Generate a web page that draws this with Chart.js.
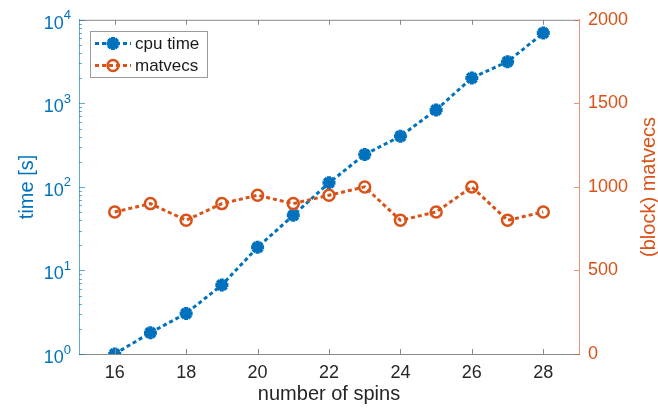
<!DOCTYPE html>
<html>
<head>
<meta charset="utf-8">
<script src="https://cdn.jsdelivr.net/npm/chart.js@4.4.1/dist/chart.umd.min.js"></script>
<style>
  html, body { margin: 0; padding: 0; background: #fff; }
</style>
</head>
<body>
<canvas id="chart" width="658" height="408"></canvas>
<script>
// Data
const spins = [16, 17, 18, 19, 20, 21, 22, 23, 24, 25, 26, 27, 28];
const cpuTime = [1.0, 1.8, 3.06, 6.7, 18.9, 45.7, 112, 244, 404, 835, 2014, 3153, 6937];
const matvecs = [850, 900, 800, 900, 950, 900, 950, 1000, 800, 850, 1000, 800, 850];

// Tick values
const xTicks = [16, 18, 20, 22, 24, 26, 28];
const timeDecades = [1, 10, 100, 1000, 10000];
const matvecTicks = [0, 500, 1000, 1500, 2000];

const BLUE = '#0072BD';
const ORANGE = '#D95319';
const FONT = '"Liberation Sans", Arial, Helvetica, sans-serif';

// all log ticks (minor + decades) for the left axis
function logTicks() {
  const out = [];
  for (let d = 0; d < timeDecades.length - 1; d++) {
    for (let m = 1; m < 10; m++) out.push(timeDecades[d] * m);
  }
  out.push(timeDecades[timeDecades.length - 1]);
  return out;
}

function drawStar(ctx, x, y, r) {
  ctx.beginPath();
  ctx.moveTo(x - r, y); ctx.lineTo(x + r, y);
  ctx.moveTo(x, y - r); ctx.lineTo(x, y + r);
  const d = r * Math.SQRT1_2;
  ctx.moveTo(x - d, y - d); ctx.lineTo(x + d, y + d);
  ctx.moveTo(x - d, y + d); ctx.lineTo(x + d, y - d);
  ctx.stroke();
}

// Axes box, inward ticks, log labels, right title and legend
const decorPlugin = {
  id: 'decor',
  afterDraw(chart) {
    const ctx = chart.ctx;
    const area = chart.chartArea;
    const xs = chart.scales.x, ys = chart.scales.y, y2 = chart.scales.y2;
    ctx.save();

    // top border
    ctx.strokeStyle = '#8a8a8a';
    ctx.lineWidth = 1;
    ctx.beginPath();
    ctx.moveTo(area.left, area.top + 0.5);
    ctx.lineTo(area.right, area.top + 0.5);
    ctx.stroke();

    // x ticks (bottom and top, pointing inward)
    xTicks.forEach(v => {
      const px = Math.round(xs.getPixelForValue(v)) + 0.5;
      ctx.beginPath();
      ctx.moveTo(px, area.bottom); ctx.lineTo(px, area.bottom - 5);
      ctx.moveTo(px, area.top); ctx.lineTo(px, area.top + 5);
      ctx.stroke();
    });

    // left log ticks
    ctx.strokeStyle = 'rgba(0,114,189,0.6)';
    logTicks().forEach(v => {
      const py = Math.round(ys.getPixelForValue(v)) + 0.5;
      const major = timeDecades.includes(v);
      ctx.beginPath();
      ctx.moveTo(area.left, py);
      ctx.lineTo(area.left + (major ? 6 : 3), py);
      ctx.stroke();
    });

    // right ticks
    ctx.strokeStyle = 'rgba(217,83,25,0.6)';
    matvecTicks.forEach(v => {
      const py = Math.round(y2.getPixelForValue(v)) + 0.5;
      ctx.beginPath();
      ctx.moveTo(area.right, py); ctx.lineTo(area.right - 5, py);
      ctx.stroke();
    });

    // left labels 10^n
    ctx.fillStyle = BLUE;
    ctx.textBaseline = 'middle';
    ctx.textAlign = 'right';
    timeDecades.forEach(v => {
      const py = ys.getPixelForValue(v);
      const exp = String(Math.round(Math.log10(v)));
      ctx.font = '13px ' + FONT;
      const ew = ctx.measureText(exp).width;
      ctx.fillText(exp, 71, py - 4);
      ctx.font = '18px ' + FONT;
      ctx.fillText('10', 71 - ew, py + 4);
    });

    // right axis title, reading bottom to top
    ctx.save();
    ctx.translate(649, (area.top + area.bottom) / 2);
    ctx.rotate(-Math.PI / 2);
    ctx.fillStyle = ORANGE;
    ctx.font = '20px ' + FONT;
    ctx.textAlign = 'center';
    ctx.textBaseline = 'middle';
    ctx.fillText('(block) matvecs', 0, 0);
    ctx.restore();

    // legend
    const bx = 90.5, by = 31.5, bw = 117, bh = 46;
    ctx.fillStyle = '#fff';
    ctx.fillRect(bx, by, bw, bh);
    ctx.strokeStyle = '#9a9a9a';
    ctx.lineWidth = 1;
    ctx.strokeRect(bx, by, bw, bh);

    const rows = [
      { label: 'cpu time', color: BLUE, y: 43.5, marker: 'star' },
      { label: 'matvecs', color: ORANGE, y: 65.5, marker: 'circle' }
    ];
    rows.forEach(r => {
      ctx.strokeStyle = r.color;
      ctx.lineWidth = 3;
      ctx.setLineDash([4, 3]);
      ctx.beginPath();
      ctx.moveTo(95, r.y); ctx.lineTo(131, r.y);
      ctx.stroke();
      ctx.setLineDash([]);
      if (r.marker === 'star') {
        ctx.lineWidth = 4;
        drawStar(ctx, 113, r.y, 6.5);
      } else {
        ctx.lineWidth = 2.5;
        ctx.beginPath();
        ctx.arc(113, r.y, 5.5, 0, Math.PI * 2);
        ctx.stroke();
      }
      ctx.fillStyle = '#1a1a1a';
      ctx.font = '17px ' + FONT;
      ctx.textAlign = 'left';
      ctx.textBaseline = 'middle';
      ctx.fillText(r.label, 135, r.y + 1);
    });

    ctx.restore();
  }
};

const data = {
  datasets: [
    {
      label: 'cpu time',
      data: spins.map((s, i) => ({ x: s, y: cpuTime[i] })),
      yAxisID: 'y',
      borderColor: BLUE,
      borderWidth: 3,
      borderDash: [4, 3],
      pointStyle: 'star',
      pointRadius: 6.5,
      pointBorderWidth: 4,
      pointBorderColor: BLUE,
      pointBackgroundColor: BLUE,
      fill: false,
      tension: 0,
      order: 1
    },
    {
      label: 'matvecs',
      data: spins.map((s, i) => ({ x: s, y: matvecs[i] })),
      yAxisID: 'y2',
      borderColor: ORANGE,
      borderWidth: 3,
      borderDash: [4, 3],
      pointStyle: 'circle',
      pointRadius: 5.5,
      pointBorderWidth: 2.5,
      pointBorderColor: ORANGE,
      pointBackgroundColor: 'transparent',
      fill: false,
      tension: 0,
      order: 0
    }
  ]
};

new Chart(document.getElementById('chart'), {
  type: 'line',
  data: data,
  plugins: [decorPlugin],
  options: {
    responsive: false,
    animation: false,
    devicePixelRatio: 1,
    layout: { padding: { top: 19, left: 0, right: 0, bottom: 0 } },
    plugins: {
      legend: { display: false },
      tooltip: { enabled: false }
    },
    scales: {
      x: {
        type: 'linear',
        min: 15,
        max: 29,
        afterBuildTicks: s => { s.ticks = xTicks.map(v => ({ value: v })); },
        afterFit: s => { s.height = 54; },
        grid: { display: false, drawTicks: false },
        border: { display: true, color: '#8a8a8a', width: 1 },
        ticks: { color: '#262626', font: { family: FONT, size: 18 }, padding: 8, autoSkip: false, maxRotation: 0 },
        title: {
          display: true, text: 'number of spins', color: '#262626',
          font: { family: FONT, size: 20, lineHeight: 1 }, padding: { top: 0, bottom: 4 }
        }
      },
      y: {
        type: 'logarithmic',
        position: 'left',
        min: 1,
        max: 10000,
        afterBuildTicks: s => { s.ticks = logTicks().map(v => ({ value: v })); },
        afterFit: s => { s.width = 79; },
        grid: { display: false, drawTicks: false },
        border: { display: true, color: 'rgba(0,114,189,0.6)', width: 1 },
        ticks: { display: false },
        title: {
          display: true, text: 'time [s]', color: BLUE,
          font: { family: FONT, size: 20, lineHeight: 1 }, padding: { top: 17, bottom: 0 }
        }
      },
      y2: {
        type: 'linear',
        position: 'right',
        min: 0,
        max: 2000,
        afterBuildTicks: s => { s.ticks = matvecTicks.map(v => ({ value: v })); },
        afterFit: s => { s.width = 79; },
        grid: { display: false, drawTicks: false },
        border: { display: true, color: 'rgba(217,83,25,0.6)', width: 1 },
        ticks: {
          color: ORANGE, font: { family: FONT, size: 18 }, padding: 9, autoSkip: false,
          callback: v => String(v)
        },
        title: { display: false }
      }
    }
  }
});
</script>
</body>
</html>
